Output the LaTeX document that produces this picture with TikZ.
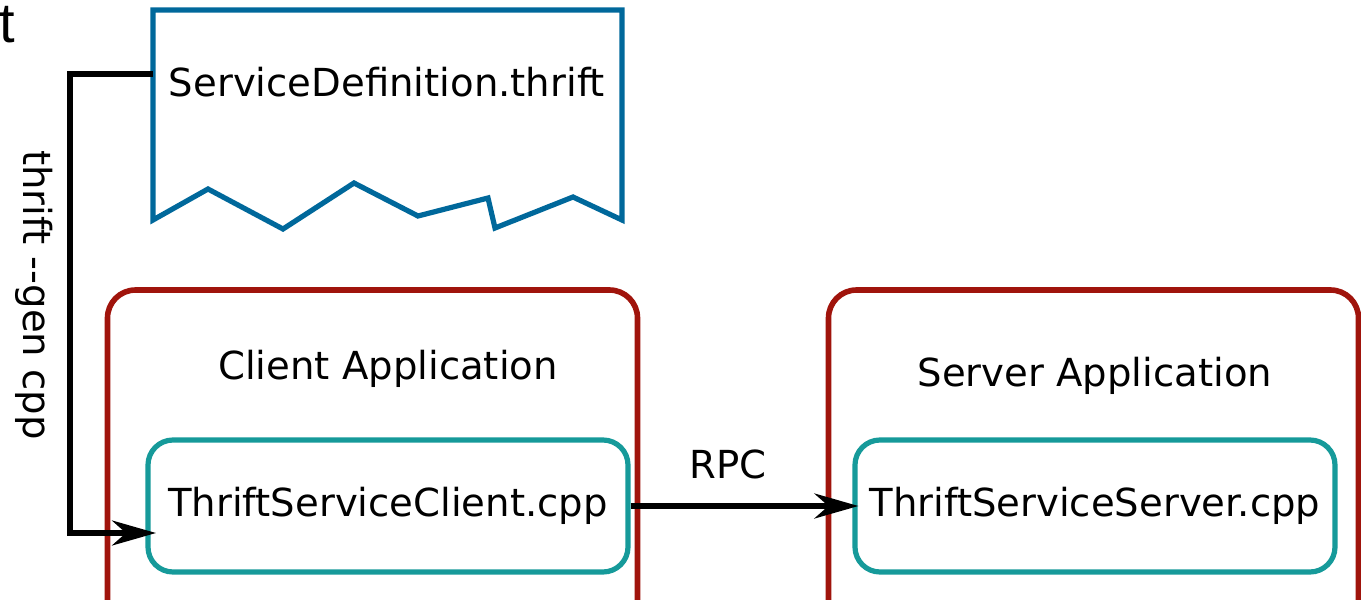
\documentclass[tikz,border=0pt]{standalone}
\usepackage{fontspec}
\setmainfont{DejaVu Sans}
\newfontfamily\cutfont{Liberation Sans}
\usetikzlibrary{arrows.meta}
\definecolor{doc_blue}{RGB}{0,104,155}
\definecolor{app_red}{RGB}{160,20,12}
\definecolor{cls_teal}{RGB}{22,154,154}
\tikzstyle{txt}=[inner sep=0pt,font=\fontsize{19.3}{23}\selectfont]
\tikzstyle{app}=[draw=app_red,line width=2.8pt,rounded corners=14pt,
  minimum width=265pt,minimum height=195pt,inner sep=0pt]
\tikzstyle{cls}=[txt,draw=cls_teal,line width=2.6pt,rounded corners=12.5pt,
  minimum width=240pt,minimum height=66pt]
\tikzstyle{arr}=[line width=2.6pt,line join=miter,
  -{Stealth[length=22pt,width=12.5pt,inset=7pt]}]

\begin{document}
\begin{tikzpicture}[x=0.5pt,y=-0.5pt]
    \useasboundingbox (0,0) rectangle (1361,600);
    \node [anchor=base west,inner sep=0pt,font=\cutfont\fontsize{28}{32}\selectfont] (cut) at (-1,42) {t};
    % the .thrift file
    \draw [doc_blue,line width=2.6pt,line join=miter] (153,10) -- (622,10) -- (622,220)
      -- (573,197) -- (495,228) -- (488,198) -- (418,216) -- (354,183)
      -- (283,229) -- (208,189) -- (153,220) -- cycle;
    \node [style=txt] (def) at (387,82) {ServiceDefinition.thrift};
    \coordinate (defl) at (153,74);
    % applications
    \node [style=app] (cliapp) at (372.5,485) {};
    \node [style=app] (srvapp) at (1093.5,485) {};
    \node [style=txt] (clilbl) at (388,369) {Client Application};
    \node [style=txt] (srvlbl) at (1095,376) {Server Application};
    \node [style=cls] (cli) at (388,506) {ThriftServiceClient.cpp};
    \node [style=cls] (srv) at (1095,506) {ThriftServiceServer.cpp};
    % code generation
    \coordinate (gencorner) at (70,533);
    \coordinate (genin) at (156,533);
    \node [style=txt,rotate=-90] (gen) at (34,295) {thrift -{}-gen cpp};
    \draw [style=arr] (defl) -| (gencorner) -- (genin);
    \draw [style=arr,shorten >=-3pt] (cli) -- (srv) node [style=txt,pos=0.44,above=12pt] (rpc) {RPC};
  \end{tikzpicture}
\end{document}
